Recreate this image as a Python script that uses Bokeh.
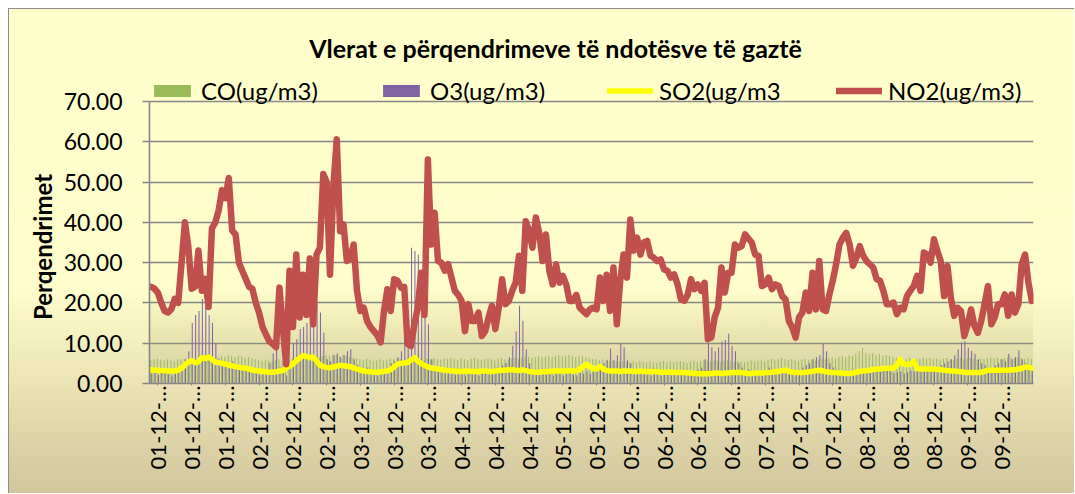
import math
from bokeh.plotting import figure
from bokeh.models import (ColumnDataSource, FixedTicker, PrintfTickFormatter, Legend,
                          LegendItem, Label, Title, BoxAnnotation, Range1d)
from bokeh.transform import dodge
from bokeh.embed import file_html
from bokeh.resources import INLINE

title_text = "Vlerat e përqendrimeve të ndotësve të gaztë"
y_title = "Perqendrimet"
series_names = ["CO(ug/m3)", "O3(ug/m3)", "SO2(ug/m3", "NO2(ug/m3)"]
y_ticks = [0, 10, 20, 30, 40, 50, 60, 70]
tick_labels = ["01-12-…", "01-12-…", "01-12-…", "02-12-…", "02-12-…", "02-12-…",
               "03-12-…", "03-12-…", "03-12-…", "04-12-…", "04-12-…", "04-12-…",
               "05-12-…", "05-12-…", "05-12-…", "06-12-…", "06-12-…", "06-12-…",
               "07-12-…", "07-12-…", "07-12-…", "08-12-…", "08-12-…", "08-12-…",
               "09-12-…", "09-12-…"]

no2 = [24, 23.5, 22.5, 20, 18, 17.6, 18.5, 21, 20, 30,
       40, 34, 23.5, 24, 33, 23, 26, 19, 38.5, 40,
       43, 48, 46, 51, 38, 37, 30, 28, 26, 24,
       23.5, 20, 17.5, 14, 12.2, 10.5, 9.8, 9, 23.8, 14,
       4.8, 28, 14, 32, 16.4, 27, 17, 31, 14.7, 32,
       33.7, 52, 50, 27, 49, 60.6, 37.8, 39.5, 30.4, 31,
       34.5, 23, 18, 18.8, 15.5, 14, 13, 12, 10.2, 18,
       23.4, 18, 25.9, 25.5, 23.8, 24, 9.8, 9.3, 14.7, 18.8,
       27.5, 17, 55.6, 34.5, 42.4, 30.4, 30, 28, 29.6, 26.3,
       23, 22, 20.5, 13, 19.7, 15.5, 15.5, 17.6, 11.8, 13,
       16.4, 19.3, 13.5, 18.8, 25.9, 19.7, 20.5, 23, 25, 31.7,
       23, 40.3, 37.9, 33.7, 41.2, 37.4, 30.4, 37, 28, 24.6,
       29.6, 25, 26.7, 24.6, 20.5, 20.5, 22, 18.8, 18, 17.2,
       18.4, 18.8, 18.4, 26.3, 20.5, 27, 18, 28.8, 14.7, 25.5,
       32, 26.3, 40.7, 33, 36.2, 32, 35, 35.4, 31.7, 31.2,
       30.4, 30.8, 28.3, 28, 26.3, 27.1, 24.6, 20.9, 20.5, 22,
       25.9, 23.4, 24.6, 23, 25, 11, 11.4, 16.4, 18.8, 28.8,
       22.6, 27.5, 27.5, 34.5, 33.7, 34.1, 37, 36, 35, 32,
       31.7, 24.2, 24.6, 26.3, 23.4, 24.6, 24.2, 21.7, 20.9, 15.5,
       13.9, 11.4, 16.4, 17.6, 22.6, 18, 27.5, 18.4, 30.4, 18.4,
       18, 22.1, 25.5, 29.6, 34.5, 36.2, 37.4, 34.5, 29.2, 31.2,
       34.1, 31.7, 30.4, 29.6, 28.8, 25.9, 25.5, 23, 19.7, 19.7,
       20.1, 17.2, 18.8, 18.4, 21.7, 23, 24.2, 26.7, 23, 32.5,
       32, 30, 35.8, 32.9, 30.4, 21.7, 29.2, 21.3, 16.8, 18.8,
       18, 11.8, 14.7, 18.4, 14.3, 12.6, 15.5, 19.7, 24.2, 14.7,
       16.4, 19.7, 19.7, 22.1, 16.8, 22.1, 17.6, 19.7, 29.6, 32, 25, 20.5]

so2 = [3.4, 3.3, 3.3, 3.2, 3.2, 3.1, 3.1, 3.1, 3.3, 3.8,
       4.6, 5.3, 5.7, 5.2, 5.4, 6.4, 6.2, 6.6, 6.0, 5.3,
       5.2, 5.0, 4.8, 4.6, 4.4, 4.2, 4.0, 3.9, 3.8, 3.6,
       3.4, 3.2, 3.1, 3.0, 2.9, 2.8, 2.8, 2.9, 3.1, 3.2,
       3.9, 4.3, 4.8, 5.7, 6.3, 6.9, 6.7, 6.4, 6.6, 5.6,
       4.5, 4.2, 4.0, 3.9, 4.1, 4.3, 4.5, 4.4, 4.3, 4.2,
       3.9, 3.6, 3.3, 3.1, 3.0, 2.9, 2.8, 2.8, 2.9, 3.0,
       3.1, 3.5, 4.1, 4.8, 5.0, 5.1, 5.2, 5.8, 6.4, 5.6,
       5.0, 4.5, 4.1, 3.9, 3.7, 3.6, 3.4, 3.3, 3.2, 3.1,
       3.1, 3.0, 3.0, 3.1, 3.1, 3.0, 3.0, 3.0, 3.1, 3.1,
       3.0, 3.0, 3.1, 3.2, 3.3, 3.3, 3.4, 3.4, 3.3, 3.2,
       3.4, 3.2, 3.0, 2.9, 2.8, 2.8, 2.9, 3.0, 3.0, 3.1,
       3.1, 3.1, 3.1, 3.1, 3.2, 3.1, 3.2, 3.5, 4.2, 4.8,
       4.2, 3.7, 3.6, 4.2, 3.6, 3.2, 3.1, 3.1, 3.1, 3.0,
       3.1, 3.1, 3.1, 3.0, 3.0, 3.1, 3.0, 3.0, 2.9, 2.9,
       2.9, 2.8, 2.8, 2.8, 2.8, 2.8, 2.7, 2.7, 2.7, 2.6,
       2.6, 2.5, 2.5, 2.4, 2.4, 2.4, 2.5, 2.6, 2.6, 2.5,
       2.6, 2.6, 2.7, 2.7, 2.8, 2.7, 2.6, 2.5, 2.5, 2.6,
       2.6, 2.6, 2.7, 2.7, 2.8, 2.9, 3.0, 3.2, 3.3, 3.0,
       2.8, 2.7, 2.7, 2.7, 2.8, 2.9, 3.0, 3.2, 3.3, 3.1,
       2.9, 2.8, 2.7, 2.7, 2.6, 2.6, 2.5, 2.5, 2.6, 2.8,
       3.0, 3.1, 3.2, 3.3, 3.5, 3.6, 3.6, 3.7, 3.8, 3.8,
       3.8, 4.5, 6.0, 4.8, 4.7, 4.8, 5.5, 3.7, 3.6, 3.6,
       3.6, 3.6, 3.6, 3.5, 3.4, 3.3, 3.2, 3.1, 3.1, 3.0,
       2.9, 2.8, 2.7, 2.7, 2.7, 2.7, 2.8, 3.0, 3.3, 3.3,
       3.3, 3.3, 3.3, 3.3, 3.3, 3.4, 3.4, 3.6, 3.7, 4.1, 4.0, 3.8]

o3 = [2.5, 3.0, 2.2, 2.8, 3.1, 2.4, 2.0, 2.6, 3.0, 4.5,
      6.0, 8.0, 15.0, 17.0, 18.0, 21.0, 19.0, 17.0, 15.0, 10.0,
      6.0, 4.5, 5.0, 3.8, 5.5, 4.2, 3.5, 4.0, 3.2, 2.8,
      2.5, 3.0, 2.2, 2.6, 3.5, 5.0, 7.5, 9.0, 4.0, 3.0,
      2.0, 4.0, 10.0, 11.0, 13.5, 14.0, 15.0, 16.8, 18.5, 19.8,
      17.6, 12.6, 6.0, 5.5, 7.0, 7.5, 6.5, 7.0, 8.0, 8.5,
      6.0, 4.5, 3.5, 3.0, 4.0, 3.2, 2.5, 2.0, 2.8, 3.5,
      4.0, 5.0, 5.5, 6.5, 8.0, 11.4, 14.7, 33.7, 32.9, 32.0,
      27.5, 23.0, 14.7, 6.0, 4.0, 3.5, 3.0, 2.5, 3.0, 2.8,
      2.2, 2.5, 3.0, 2.0, 2.6, 3.2, 2.4, 2.0, 2.8, 3.0,
      2.5, 3.5, 4.0, 3.0, 4.5, 5.0, 6.5, 9.4, 13.0, 19.3,
      15.6, 8.5, 5.0, 3.5, 2.8, 2.5, 3.0, 2.2, 2.6, 2.0,
      2.4, 2.8, 2.0, 2.5, 3.0, 2.2, 2.0, 2.6, 2.4, 3.0,
      2.5, 2.8, 3.5, 4.0, 5.0, 5.8, 8.7, 5.8, 7.0, 9.9,
      9.0, 5.8, 5.0, 3.5, 3.0, 2.5, 2.8, 2.2, 2.0, 2.5,
      2.4, 2.0, 2.6, 2.2, 2.0, 2.5, 2.8, 2.2, 2.4, 2.6,
      2.8, 3.0, 3.5, 4.0, 6.0, 9.9, 9.0, 8.0, 9.0, 10.4,
      10.8, 12.4, 9.4, 8.0, 5.0, 4.0, 3.0, 3.5, 2.8, 3.0,
      2.5, 3.0, 3.5, 4.0, 3.2, 3.0, 2.8, 2.6, 3.2, 3.5,
      3.0, 2.8, 3.5, 4.0, 4.5, 5.0, 6.0, 6.5, 7.0, 9.8,
      8.0, 5.0, 4.0, 3.5, 3.0, 3.2, 2.8, 3.0, 3.5, 3.0,
      2.8, 3.2, 3.5, 3.0, 2.8, 3.0, 3.5, 4.0, 3.2, 3.0,
      2.6, 2.8, 3.0, 2.5, 2.8, 3.2, 3.0, 3.5, 4.0, 3.8,
      3.5, 3.0, 3.2, 3.8, 4.5, 5.0, 5.5, 6.0, 7.0, 8.5,
      10.2, 10.5, 8.9, 8.1, 7.3, 6.0, 5.0, 4.5, 4.0, 3.8,
      4.5, 5.0, 6.0, 5.5, 7.3, 6.0, 6.5, 8.3, 6.0, 5.0, 4.5, 4.0]

co = [5.8, 6.0, 6.2, 5.9, 5.7, 6.0, 5.8, 5.5, 5.9, 6.1,
      6.0, 5.8, 5.6, 6.0, 5.9, 6.2, 6.0, 5.7, 5.5, 5.8,
      6.5, 6.8, 6.6, 7.0, 6.8, 6.5, 6.9, 6.7, 6.4, 6.6,
      6.2, 6.0, 5.8, 5.6, 5.9, 5.7, 5.5, 5.8, 6.0, 5.6,
      5.5, 5.9, 6.2, 6.0, 5.8, 6.3, 6.1, 5.9, 6.0, 6.2,
      6.4, 6.8, 7.0, 6.9, 7.2, 7.0, 6.8, 7.1, 6.9, 6.6,
      6.4, 6.2, 6.0, 5.8, 6.1, 5.9, 5.6, 5.8, 6.0, 5.7,
      5.9, 6.2, 6.0, 6.3, 6.1, 5.8, 6.0, 6.2, 5.9, 6.1,
      6.0, 5.8, 6.2, 6.0, 6.3, 6.1, 5.9, 6.2, 6.0, 6.4,
      6.1, 5.9, 6.3, 6.0, 5.8, 6.2, 6.4, 6.1, 5.9, 6.0,
      6.2, 6.0, 5.8, 6.1, 6.3, 6.0, 5.9, 6.2, 6.4, 6.1,
      6.3, 6.5, 6.7, 6.4, 6.6, 6.8, 6.5, 6.7, 6.9, 6.6,
      6.8, 7.0, 6.7, 6.9, 7.1, 6.8, 6.6, 6.9, 6.7, 6.5,
      6.3, 6.1, 6.0, 5.8, 6.0, 5.7, 5.5, 5.8, 5.6, 5.4,
      5.6, 5.4, 5.2, 5.5, 5.3, 5.6, 5.4, 5.2, 5.5, 5.3,
      5.1, 5.4, 5.6, 5.3, 5.5, 5.2, 5.4, 5.6, 5.3, 5.1,
      5.4, 5.6, 5.3, 5.5, 5.8, 5.6, 5.4, 5.7, 5.5, 5.3,
      5.6, 5.8, 5.5, 5.3, 5.6, 5.4, 5.2, 5.5, 5.7, 5.4,
      5.6, 5.8, 5.5, 5.9, 6.1, 5.8, 6.0, 6.3, 6.1, 5.9,
      6.0, 5.8, 5.6, 5.9, 6.1, 5.8, 6.0, 5.7, 5.9, 6.2,
      6.0, 6.3, 6.5, 6.2, 6.6, 6.8, 6.5, 7.0, 6.8, 7.4,
      8.0, 8.9, 7.6, 7.2, 7.5, 7.0, 7.3, 6.9, 7.1, 6.8,
      6.6, 6.4, 6.5, 6.2, 6.0, 6.3, 6.1, 5.9, 6.2, 6.4,
      6.1, 6.3, 6.0, 6.2, 5.9, 6.1, 6.3, 6.0, 5.8, 6.1,
      6.3, 6.0, 6.2, 6.4, 6.1, 5.9, 6.2, 6.0, 6.3, 6.5,
      6.2, 6.4, 6.1, 6.3, 6.6, 6.4, 6.2, 6.5, 6.3, 6.1, 6.4, 6.2]

assert len(no2) == len(so2) == len(o3) == len(co), (len(no2), len(so2), len(o3), len(co))

N = len(no2)
idx = list(range(N))
tick_pos = list(range(2, N, 10))[:len(tick_labels)]

src = ColumnDataSource(dict(x=idx, co=co, o3=o3, so2=so2, no2=no2))

# ---- layout (pixels inside the figure; figure content starts at page x=9, y=9)
FONT = "Lato"
W, H = 1066, 485
FRAME_TOP = 11          # frame extends up to hold title + legend (drawn inside frame)
FRAME_BOTTOM = 111
AXIS_TOP_PX = 92        # where value 70 sits, from the figure top
y_max = max(y_ticks)
plot_px = H - FRAME_BOTTOM - AXIS_TOP_PX
y_end = y_max + (AXIS_TOP_PX - FRAME_TOP) * y_max / plot_px

p = figure(width=W, height=H, output_backend="svg", toolbar_location=None,
           x_range=Range1d(-0.5, N - 0.5), y_range=Range1d(0, y_end),
           min_border_left=140, min_border_right=42, min_border_top=FRAME_TOP,
           min_border_bottom=FRAME_BOTTOM)
p.styles = {
    "margin-left": "8px",
    "margin-top": "8px",
    "background": "linear-gradient(180deg, #FFFFCC 0%, #FEFDCB 58%, #D3C59C 100%)",
    "border-left": "1px solid #8c8c8c",
    "border-top": "1px solid #8c8c8c",
}
p.background_fill_color = None
p.border_fill_color = None
p.outline_line_color = None

# subtle darkening toward the bottom of the plot area
for k in range(1, 12):
    p.add_layout(BoxAnnotation(bottom=0, top=2 * k, fill_color="#C2B07E",
                               fill_alpha=0.028, line_color=None, level="underlay"))

r_co = p.vbar(x=dodge("x", -0.17, range=p.x_range), top="co", width=0.3, source=src,
              fill_color="#9BBB59", line_color=None)
r_o3 = p.vbar(x=dodge("x", 0.17, range=p.x_range), top="o3", width=0.3, source=src,
              fill_color="#8064A2", line_color=None)
r_so2 = p.line("x", "so2", source=src, line_color="#FFFF00", line_width=5.5,
               line_join="round", line_cap="round")
r_no2 = p.line("x", "no2", source=src, line_color="#C0504D", line_width=6.5,
               line_join="round", line_cap="round")

# grid
p.xgrid.visible = False
p.ygrid.grid_line_color = "#878787"
p.ygrid.grid_line_width = 1.6

# y axis
p.yaxis.ticker = FixedTicker(ticks=y_ticks)
p.yaxis.bounds = (0, y_max)
p.yaxis.formatter = PrintfTickFormatter(format="%.2f")
p.yaxis.major_label_text_font = FONT
p.yaxis.major_label_text_font_size = "23px"
p.yaxis.major_label_text_color = "#000000"
p.yaxis.axis_line_color = "#878787"
p.yaxis.axis_line_width = 1.6
p.yaxis.major_tick_line_color = "#878787"
p.yaxis.major_tick_line_width = 1.6
p.yaxis.major_tick_out = 7
p.yaxis.major_tick_in = 0
p.yaxis.minor_tick_line_color = None
p.yaxis.major_label_standoff = 20

# y-axis title, centred on the 0..70 span
y_title_len = 147   # approx rendered length of the bold label in px
p.add_layout(Title(text=y_title, align="left",
                   offset=(H - FRAME_BOTTOM + 9) - 246 - y_title_len / 2,
                   standoff=8, text_font=FONT, text_font_style="bold",
                   text_font_size="24px", text_color="#000000"), "left")

# x axis
p.xaxis.ticker = FixedTicker(ticks=tick_pos)
p.xaxis.major_label_overrides = {t: lab for t, lab in zip(tick_pos, tick_labels)}
p.xaxis.major_label_orientation = math.pi / 2
p.xaxis.major_label_text_font = FONT
p.xaxis.major_label_text_font_size = "22px"
p.xaxis.major_label_text_color = "#000000"
p.xaxis.axis_line_color = "#878787"
p.xaxis.axis_line_width = 1.6
p.xaxis.major_tick_line_color = "#878787"
p.xaxis.major_tick_out = 2
p.xaxis.major_tick_in = 0
p.xaxis.minor_tick_line_color = None
p.xaxis.major_label_standoff = 0

# legend drawn inside the (extended) frame, just above the 70 line
legend_top_from_fig = 72   # legend box top, px from figure top
legend = Legend(items=[LegendItem(label=series_names[0], renderers=[r_co]),
                       LegendItem(label=series_names[1], renderers=[r_o3]),
                       LegendItem(label=series_names[2], renderers=[r_so2]),
                       LegendItem(label=series_names[3], renderers=[r_no2])],
                orientation="horizontal",
                location=(0, H - FRAME_BOTTOM - legend_top_from_fig - 24),
                glyph_width=46, glyph_height=15, label_width=177, label_height=24,
                label_standoff=6, spacing=0, padding=0, margin=0,
                border_line_color=None, background_fill_alpha=0,
                label_text_font=FONT, label_text_font_size="24px",
                label_text_color="#000000")
p.add_layout(legend)

# title (centre at page x=555, y=47)
p.add_layout(Label(x=555 - 149, y=(H - FRAME_BOTTOM) - (47 - 9), x_units="screen",
                   y_units="screen", text=title_text, text_align="center",
                   text_baseline="middle", text_font=FONT, text_font_style="bold",
                   text_font_size="25px", text_color="#000000"))

open("out.html", "w").write(file_html(p, INLINE))
